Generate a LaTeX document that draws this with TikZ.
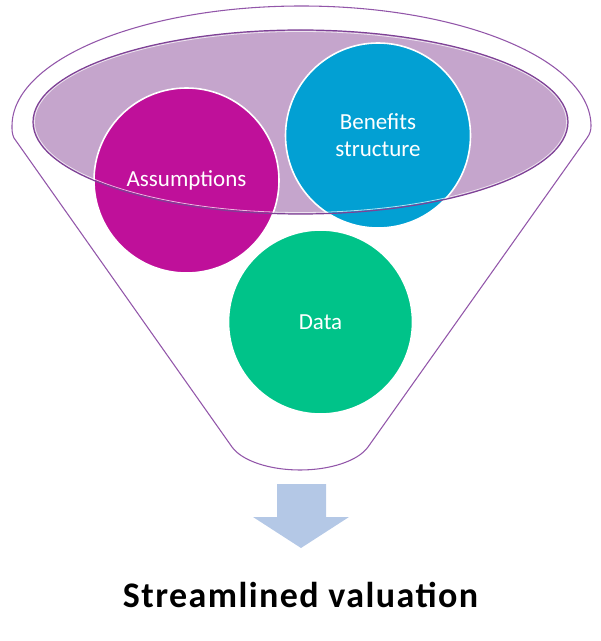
\documentclass[tikz,border=0pt]{standalone}
\usepackage{fontspec}
\setmainfont{Carlito}
\newfontfamily\titlefont[LetterSpace=4]{Carlito}
\definecolor{funnelline}{HTML}{9256A9}
\definecolor{ellfill}{HTML}{C5A5CC}
\definecolor{ellline}{HTML}{7E4196}
\definecolor{magentac}{HTML}{BF109A}
\definecolor{bluec}{HTML}{02A0D3}
\definecolor{greenc}{HTML}{00C389}
\definecolor{arrowc}{HTML}{B4C8E6}
\tikzset{
  bubble/.style={circle, draw=white, line width=1.2pt, inner sep=0pt, text=white,
    align=center, font=\fontsize{17.25pt}{20.25pt}\selectfont},
  funnelstroke/.style={draw=funnelline, line width=0.8pt, line join=round},
}
\begin{document}
\begin{tikzpicture}[x=0.75pt, y=-0.75pt]
\useasboundingbox (0,0) rectangle (600,641);
% outer funnel
\draw[funnelstroke] (14,138) -- (232,447)
  .. controls (242,461) and (270,470) .. (300,470)
  .. controls (330,470) and (358,461) .. (368,447)
  -- (587,138) .. controls (590,134) and (591,130) .. (591,126)
  arc[start angle=0, end angle=-180, x radius=289.5, y radius=120]
  .. controls (12,130) and (12,134) .. (14,138) -- cycle;
% inner ellipse fill
\fill[ellfill] (300.5,122) ellipse[x radius=267.5, y radius=92];
% bubbles
\node[bubble, fill=magentac, minimum size=138.75pt] (assump) at (186.5,180.5) {Assumptions};
\node[bubble, fill=bluec, minimum size=138.75pt] (benef) at (378,135.5) {Benefits\\structure};
\node[bubble, fill=greenc, minimum size=138pt] (data) at (320.5,322) {Data};
% inner ellipse outline on top
\draw[white, line width=0.6pt, opacity=0.7] (300.5,122) ellipse[x radius=266, y radius=90.5];
\draw[ellline, line width=0.9pt] (300.5,122) ellipse[x radius=267.5, y radius=92];
% arrow
\fill[arrowc] (277,484) -- (326,484) -- (326,517) -- (349,517) -- (301,548)
  -- (253,517) -- (277,517) -- cycle;
% caption
\node[anchor=base, inner sep=0pt, font=\titlefont\bfseries\fontsize{27pt}{31pt}\selectfont] (title) at (300.5,607) {Streamlined valuation};
\end{tikzpicture}
\end{document}
